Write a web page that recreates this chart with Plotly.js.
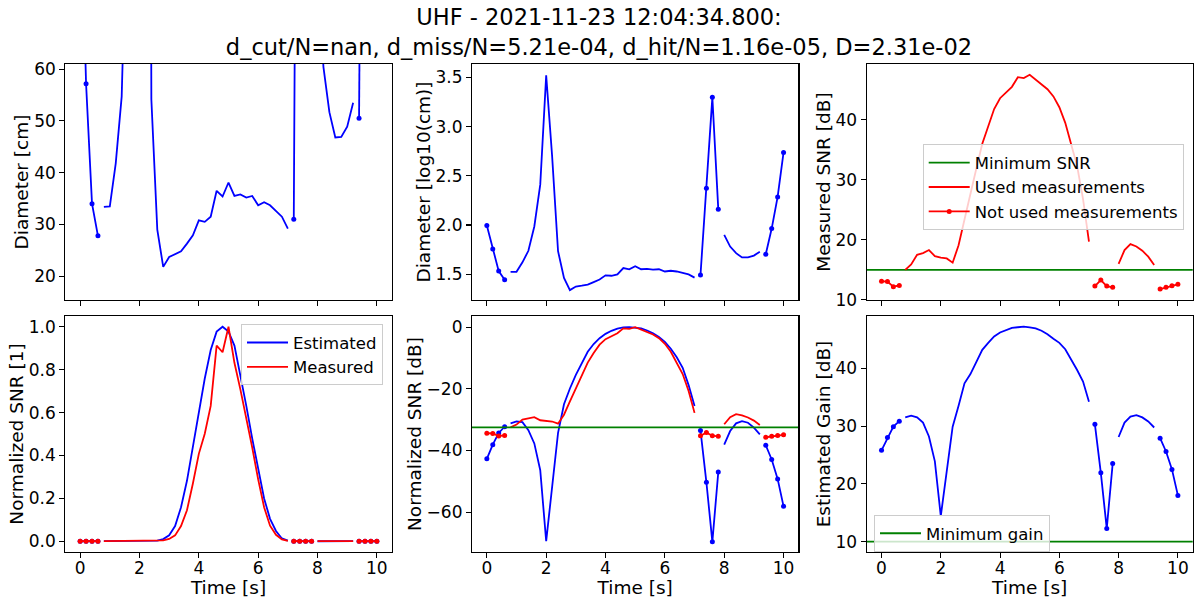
<!DOCTYPE html>
<html><head><meta charset="utf-8">
<script src="https://cdn.plot.ly/plotly-3.0.1.min.js"></script>
<style>html,body{margin:0;padding:0;background:#fff}#chart{width:1198px;height:602px}</style>
</head><body><div id="chart"></div>
<script>
// ---- data ----
const times = [0,0.2,0.4,0.6,0.8,1.0,1.2,1.4,1.6,1.8,2.0,2.2,2.4,2.6,2.8,3.0,3.2,3.4,3.6,3.8,4.0,4.2,4.4,4.6,4.8,5.0,5.2,5.4,5.6,5.8,6.0,6.2,6.4,6.6,6.8,7.0,7.2,7.4,7.6,7.8,8.0,8.2,8.4,8.6,8.8,9.0,9.2,9.4,9.6,9.8,10.0];
// 1 = used measurement, 0 = not used
const usedFlags = [0,0,0,0,1,1,1,1,1,1,1,1,1,1,1,1,1,1,1,1,1,1,1,1,1,1,1,1,1,1,1,1,1,1,1,1,0,0,0,0,1,1,1,1,1,1,1,0,0,0,0];
const diameterCm = [98.9,57.2,34.0,27.8,33.4,33.5,41.8,54.7,96.6,257,3311,501,54.2,29.0,21.8,23.7,24.2,24.8,26.3,27.9,30.8,30.5,31.5,36.5,35.4,38.1,35.5,35.8,35.2,35.5,33.7,34.3,33.7,32.5,31.5,29.2,31.0,237,1982,145,79.4,60.4,51.7,46.8,46.9,48.9,53.5,50.5,92.0,193,546];
const measuredSnrDb = [13.1,13.05,12.2,12.4,15.0,15.9,17.5,17.8,18.3,17.3,17.05,16.9,16.2,19.1,23.4,27.8,31.9,36.0,39.1,41.8,43.6,44.5,45.5,47.1,46.95,47.5,46.7,46.0,45.1,43.9,42.1,39.5,36.1,32.3,26.8,19.7,12.3,13.3,12.3,12.1,16.0,18.3,19.3,18.9,18.2,17.2,15.8,11.8,12.1,12.35,12.6];
const estimatedNormSnrDb = [-42.7,-38.1,-34.3,-32.3,-31.2,-30.6,-30.8,-33.4,-37.7,-46.4,-69.4,-52.0,-34.3,-25.0,-19.9,-15.5,-11.5,-8.0,-5.5,-3.6,-2.2,-1.2,-0.5,-0.1,0.0,-0.1,-0.4,-1.1,-2.0,-3.2,-4.8,-7.0,-9.8,-13.2,-18.8,-25.6,-33.5,-50.3,-69.6,-47.0,-38.1,-33.7,-31.2,-30.5,-31.0,-32.6,-34.8,-38.3,-42.9,-49.2,-58.1];
const estimatedGainDb = [25.8,28.0,29.9,30.85,31.5,31.8,31.5,30.6,28.2,23.9,14.4,22.2,29.9,33.5,37.4,39.0,41.15,43.2,44.4,45.5,46.2,46.6,47.0,47.1,47.2,47.1,46.9,46.5,45.9,45.1,44.4,43.3,41.6,39.7,37.7,34.2,30.3,21.9,12.25,23.5,28.1,30.6,31.65,31.9,31.5,30.8,29.75,27.9,25.6,22.5,18.0];
const minimumSnrDb = 15;
const minimumGainDb = 10;
const titleLines = ["UHF - 2021-11-23 12:04:34.800:", "d_cut/N=nan, d_miss/N=5.21e-04, d_hit/N=1.16e-05, D=2.31e-02"];
const xTicks = [0,2,4,6,8,10];

// ---- derived series ----
const logDiameter = diameterCm.map(v => Math.log10(v));
const maxMeasured = Math.max(...measuredSnrDb);
const measuredNormDb = measuredSnrDb.map(v => v - maxMeasured);
const minSnrNorm = minimumSnrDb - maxMeasured;
const estimatedNormLin = estimatedNormSnrDb.map(v => Math.pow(10, v/10));
const measuredNormLin = measuredNormDb.map(v => Math.pow(10, v/10));
const pick = (arr, want) => arr.map((v,i) => usedFlags[i] === want ? v : null);
const hx = [times[0]-1, times[times.length-1]+1];

const BLUE = '#0000ff', RED = '#ff0000', GREEN = '#008000';
const LW = 1.8, MS = 5;
function usedTrace(y, xa, ya, color, extra) {
  return Object.assign({x: times, y: pick(y,1), xaxis: xa, yaxis: ya, mode: 'lines',
    line: {color: color, width: LW}, showlegend: false, connectgaps: false, hoverinfo: 'skip'}, extra || {});
}
function notUsedTrace(y, xa, ya, color, extra) {
  return Object.assign({x: times, y: pick(y,0), xaxis: xa, yaxis: ya, mode: 'lines+markers',
    line: {color: color, width: LW}, marker: {color: color, size: MS}, showlegend: false, connectgaps: false, hoverinfo: 'skip'}, extra || {});
}
function hLine(val, xa, ya, extra) {
  return Object.assign({x: hx, y: [val, val], xaxis: xa, yaxis: ya, mode: 'lines',
    line: {color: GREEN, width: LW}, showlegend: false, hoverinfo: 'skip'}, extra || {});
}

const traces = [
  // panel 1
  usedTrace(diameterCm, 'x', 'y', BLUE),
  notUsedTrace(diameterCm, 'x', 'y', BLUE),
  // panel 2
  usedTrace(logDiameter, 'x2', 'y2', BLUE),
  notUsedTrace(logDiameter, 'x2', 'y2', BLUE),
  // panel 3
  hLine(minimumSnrDb, 'x3', 'y3', {name: 'Minimum SNR', showlegend: true, legend: 'legend2'}),
  usedTrace(measuredSnrDb, 'x3', 'y3', RED, {name: 'Used measurements', showlegend: true, legend: 'legend2'}),
  notUsedTrace(measuredSnrDb, 'x3', 'y3', RED, {name: 'Not used measurements', showlegend: true, legend: 'legend2'}),
  // panel 4
  usedTrace(estimatedNormLin, 'x4', 'y4', BLUE, {name: 'Estimated', showlegend: true, legend: 'legend'}),
  notUsedTrace(estimatedNormLin, 'x4', 'y4', BLUE),
  usedTrace(measuredNormLin, 'x4', 'y4', RED, {name: 'Measured', showlegend: true, legend: 'legend'}),
  notUsedTrace(measuredNormLin, 'x4', 'y4', RED),
  // panel 5
  usedTrace(estimatedNormSnrDb, 'x5', 'y5', BLUE),
  notUsedTrace(estimatedNormSnrDb, 'x5', 'y5', BLUE),
  usedTrace(measuredNormDb, 'x5', 'y5', RED),
  notUsedTrace(measuredNormDb, 'x5', 'y5', RED),
  hLine(minSnrNorm, 'x5', 'y5'),
  // panel 6
  hLine(minimumGainDb, 'x6', 'y6', {name: 'Minimum gain', showlegend: true, legend: 'legend3'}),
  usedTrace(estimatedGainDb, 'x6', 'y6', BLUE),
  notUsedTrace(estimatedGainDb, 'x6', 'y6', BLUE)
];

const W = 1198, H = 602;
const FONT = 'DejaVu Sans, sans-serif';
const colX = [[65.3, 391.7], [472, 798.4], [866.7, 1192.7]];
const rowY = [[64, 300], [316, 552]];
const dx = c => [colX[c][0]/W, colX[c][1]/W];
const dy = r => [1 - rowY[r][1]/H, 1 - rowY[r][0]/H];

function xAxis(col, row, anchor) {
  const a = {domain: dx(col), anchor: anchor, range: [-0.5, 10.5], tickvals: xTicks,
    showline: true, mirror: true, linecolor: '#000', linewidth: 1.1, ticks: 'outside', ticklen: 5, tickwidth: 1.1,
    tickcolor: '#000', showgrid: false, zeroline: false, tickfont: {size: 17, color: '#000'},
    showticklabels: row === 1, ticklabelstandoff: -5};
  if (row === 1) a.title = {text: 'Time [s]', font: {size: 18.5, color: '#000'}, standoff: 1};
  return a;
}
function yAxis(col, row, anchor, range, ticks, title, fmt) {
  const a = {domain: dy(row), anchor: anchor, range: range, tickvals: ticks,
    showline: true, mirror: true, linecolor: '#000', linewidth: 1.1, ticks: 'outside', ticklen: 5, tickwidth: 1.1,
    tickcolor: '#000', showgrid: false, zeroline: false, tickfont: {size: 17, color: '#000'},
    title: {text: title, font: {size: 18.5, color: '#000'}, standoff: 0}};
  if (fmt) a.tickformat = fmt;
  return a;
}
const legendBase = {bgcolor: 'rgba(255,255,255,0.8)', bordercolor: '#cccccc', borderwidth: 1,
  font: {size: 16.5, color: '#000'}, xanchor: 'left', yanchor: 'top', traceorder: 'normal', itemwidth: 41};

const layout = {
  width: W, height: H, margin: {l: 0, r: 0, t: 0, b: 0},
  paper_bgcolor: '#fff', plot_bgcolor: '#fff',
  font: {family: FONT, color: '#000'},
  title: {text: titleLines.join('<br>'), font: {size: 22.5, color: '#000'}, x: 0.5, xanchor: 'center',
    yref: 'container', y: 0.958, yanchor: 'top'},
  xaxis: xAxis(0, 0, 'y'), yaxis: yAxis(0, 0, 'x', [15.4, 61], [20,30,40,50,60], 'Diameter [cm]'),
  xaxis2: xAxis(1, 0, 'y2'), yaxis2: yAxis(1, 0, 'x2', [1.238, 3.636], [1.5,2.0,2.5,3.0,3.5], 'Diameter [log10(cm)]', '.1f'),
  xaxis3: xAxis(2, 0, 'y3'), yaxis3: yAxis(2, 0, 'x3', [9.98, 49.3], [10,20,30,40], 'Measured SNR [dB]'),
  xaxis4: xAxis(0, 1, 'y4'), yaxis4: yAxis(0, 1, 'x4', [-0.05, 1.05], [0,0.2,0.4,0.6,0.8,1.0], 'Normalized SNR [1]', '.1f'),
  xaxis5: xAxis(1, 1, 'y5'), yaxis5: yAxis(1, 1, 'x5', [-72.9, 3.6], [-60,-40,-20,0], 'Normalized SNR [dB]'),
  xaxis6: xAxis(2, 1, 'y6'), yaxis6: yAxis(2, 1, 'x6', [8.2, 49.05], [10,20,30,40], 'Estimated Gain [dB]'),
  legend: Object.assign({}, legendBase, {x: 241/W, y: 1 - 324.3/H}),
  legend2: Object.assign({}, legendBase, {x: 922.7/W, y: 1 - 144.3/H}),
  legend3: Object.assign({}, legendBase, {x: 874/W, y: 1 - 515/H}),
  showlegend: true
};
Plotly.newPlot('chart', traces, layout, {staticPlot: true, displayModeBar: false});
</script>
</body></html>
